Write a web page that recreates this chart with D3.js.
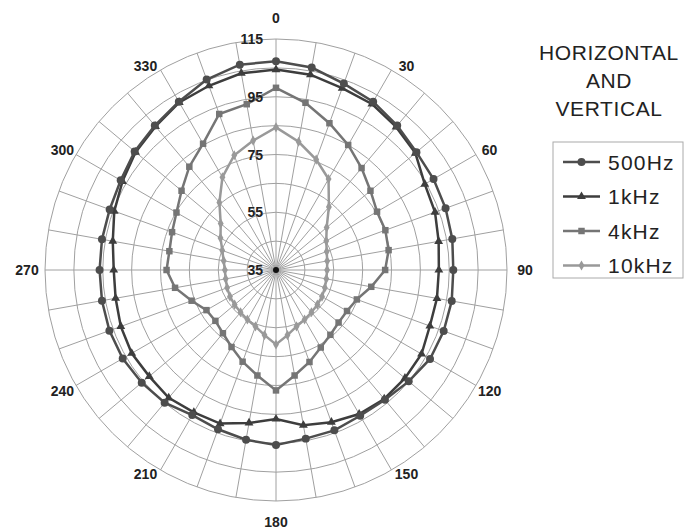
<!DOCTYPE html>
<html>
<head>
<meta charset="utf-8">
<script src="https://cdn.jsdelivr.net/npm/d3@7"></script>
<style>
  body { margin: 0; background: #fff; }
  text { font-family: "Liberation Sans", Arial, sans-serif; }
</style>
</head>
<body>
<div id="container"></div>
<script>
// angles in degrees, clockwise from top
const angles = [0, 10, 20, 30, 40, 50, 60, 70, 80, 90, 100, 110, 120, 130, 140, 150, 160, 170,
  180, 190, 200, 210, 220, 230, 240, 250, 260, 270, 280, 290, 300, 310, 320, 330, 340, 350];

const hz500 = [107.3, 106.2, 103.7, 102.3, 100.3, 98.5, 98.0, 97.5, 97.0, 96.4, 96.8, 96.8, 96.6, 95.0, 93.7, 93.3, 94.1, 94.3,
  95.6, 94.7, 93.7, 93.0, 95.0, 95.7, 96.3, 96.4, 96.2, 96.1, 96.2, 96.3, 97.1, 98.9, 100.3, 102.3, 105.2, 107.2];
const khz1 = [104.4, 103.7, 102.0, 101.4, 99.7, 98.0, 94.5, 93.6, 92.2, 91.4, 91.6, 91.7, 93.2, 93.3, 93.3, 92.6, 91.1, 89.6,
  86.6, 88.8, 91.6, 91.9, 92.8, 92.3, 92.7, 92.2, 91.4, 91.2, 92.4, 94.6, 96.4, 98.5, 99.9, 102.0, 102.9, 104.2];
const khz4 = [98.1, 93.8, 89.1, 85.0, 81.1, 77.7, 75.4, 75.3, 74.6, 72.8, 68.5, 64.8, 63.4, 63.3, 64.3, 66.0, 68.9, 72.1,
  76.7, 72.1, 68.8, 65.8, 63.6, 62.4, 62.8, 66.1, 70.5, 72.9, 72.5, 73.3, 74.8, 77.7, 81.7, 85.5, 92.5, 93.3];
const khz10 = [84.4, 80.1, 75.7, 71.4, 63.5, 57.9, 55.1, 53.7, 53.0, 52.7, 52.7, 53.0, 53.4, 53.7, 54.1, 54.8, 55.8, 57.9,
  60.8, 57.9, 55.8, 54.8, 54.1, 53.7, 53.4, 53.0, 52.7, 52.7, 53.4, 54.8, 57.2, 60.0, 65.5, 72.1, 77.3, 80.5];

const seriesNames = ['500Hz', '1kHz', '4kHz', '10kHz'];
const rings = [45, 55, 65, 75, 85, 95, 105, 115];
const radialTicks = [35, 55, 75, 95, 115];
const angleTicks = [0, 30, 60, 90, 120, 150, 180, 210, 240, 270, 300, 330];

const width = 688, height = 529;
const cx = 276, cy = 270, outer = 231;

const svg = d3.select('#container').append('svg').attr('width', width).attr('height', height);

const r = d3.scaleLinear().domain([35, 115]).range([0, outer]);
const rad = d => d * Math.PI / 180;

const g = svg.append('g').attr('transform', `translate(${cx},${cy})`);

// grid
g.selectAll('circle.ring')
    .data(rings)
    .enter().append('circle')
    .attr('class', 'ring')
    .attr('r', d => r(d))
    .attr('fill', 'none')
    .attr('stroke', '#a0a0a0')
    .attr('stroke-width', 1);

g.selectAll('line.spoke')
    .data(angles)
    .enter().append('line')
    .attr('x1', 0).attr('y1', 0)
    .attr('x2', d => outer * Math.sin(rad(d)))
    .attr('y2', d => -outer * Math.cos(rad(d)))
    .attr('stroke', '#a0a0a0')
    .attr('stroke-width', 1);

// series
const series = [
  { name: seriesNames[0], values: hz500, color: '#4d4d4d', symbol: d3.symbolCircle, size: 50 },
  { name: seriesNames[1], values: khz1, color: '#3d3d3d', symbol: d3.symbolTriangle, size: 34 },
  { name: seriesNames[2], values: khz4, color: '#757575', symbol: d3.symbolSquare, size: 42 },
  { name: seriesNames[3], values: khz10, color: '#999999', symbol: d3.symbolDiamond, size: 30 }
];

const line = d3.lineRadial()
    .angle((d, i) => rad(angles[i]))
    .radius(d => r(d))
    .curve(d3.curveLinearClosed);

// draw from inner to outer so the dark lines sit on top
series.slice().reverse().forEach(s => {
  const sg = g.append('g');
  sg.append('path')
      .attr('d', line(s.values))
      .attr('fill', 'none')
      .attr('stroke', s.color)
      .attr('stroke-width', 2.5);
  sg.selectAll('path.pt')
      .data(s.values)
      .enter().append('path')
      .attr('class', 'pt')
      .attr('d', d3.symbol().type(s.symbol).size(s.size))
      .attr('transform', (d, i) => `translate(${r(d) * Math.sin(rad(angles[i]))},${-r(d) * Math.cos(rad(angles[i]))})`)
      .attr('fill', s.color);
});

g.append('circle').attr('r', 3).attr('fill', '#111');

// radial tick labels
g.selectAll('text.rt')
    .data(radialTicks)
    .enter().append('text')
    .attr('x', -13).attr('y', d => -r(d))
    .attr('dy', '0.36em')
    .attr('text-anchor', 'end')
    .attr('font-size', 14).attr('font-weight', 'bold').attr('fill', '#222')
    .text(d => d);

// angle labels: sit just outside the outer ring, pushed out by half the label box
const sgn = v => Math.abs(v) < 1e-6 ? 0 : Math.sign(v);
const labelPos = d => {
  const s = Math.sin(rad(d)), c = Math.cos(rad(d));
  const R = (sgn(s) === 0 || sgn(c) === 0) ? 229 : 227;
  const ox = sgn(c) === 0 ? 20 : 17, oy = sgn(s) === 0 ? 23 : 7;
  return [R * s + ox * sgn(s), -R * c - oy * sgn(c)];
};
g.selectAll('text.at')
    .data(angleTicks)
    .enter().append('text')
    .attr('x', d => labelPos(d)[0])
    .attr('y', d => labelPos(d)[1])
    .attr('dy', '0.36em')
    .attr('text-anchor', 'middle')
    .attr('font-size', 14).attr('font-weight', 'bold').attr('fill', '#222')
    .text(d => d);

// legend title
const title = ['HORIZONTAL', 'AND', 'VERTICAL'];
svg.selectAll('text.title')
    .data(title)
    .enter().append('text')
    .attr('x', 609).attr('y', (d, i) => 52 + i * 28)
    .attr('dy', '0.36em')
    .attr('text-anchor', 'middle')
    .attr('font-size', 21).attr('letter-spacing', 0.6).attr('fill', '#222')
    .text(d => d);

// legend box
const lg = svg.append('g').attr('transform', 'translate(553,142)');
lg.append('rect')
    .attr('width', 130).attr('height', 136)
    .attr('fill', '#fff').attr('stroke', '#aaa').attr('stroke-width', 1);

const item = lg.selectAll('g.item')
    .data(series)
    .enter().append('g')
    .attr('transform', (d, i) => `translate(0, ${20 + i * 34.5})`);

item.append('line')
    .attr('x1', 10).attr('x2', 47)
    .attr('stroke', d => d.color).attr('stroke-width', 2.5);
item.append('path')
    .attr('d', d => d3.symbol().type(d.symbol).size(d.size)())
    .attr('transform', 'translate(28.5,0)')
    .attr('fill', d => d.color);
item.append('text')
    .attr('x', 55).attr('dy', '0.36em')
    .attr('font-size', 21).attr('letter-spacing', 1.2).attr('fill', '#222')
    .text(d => d.name);
</script>
</body>
</html>
